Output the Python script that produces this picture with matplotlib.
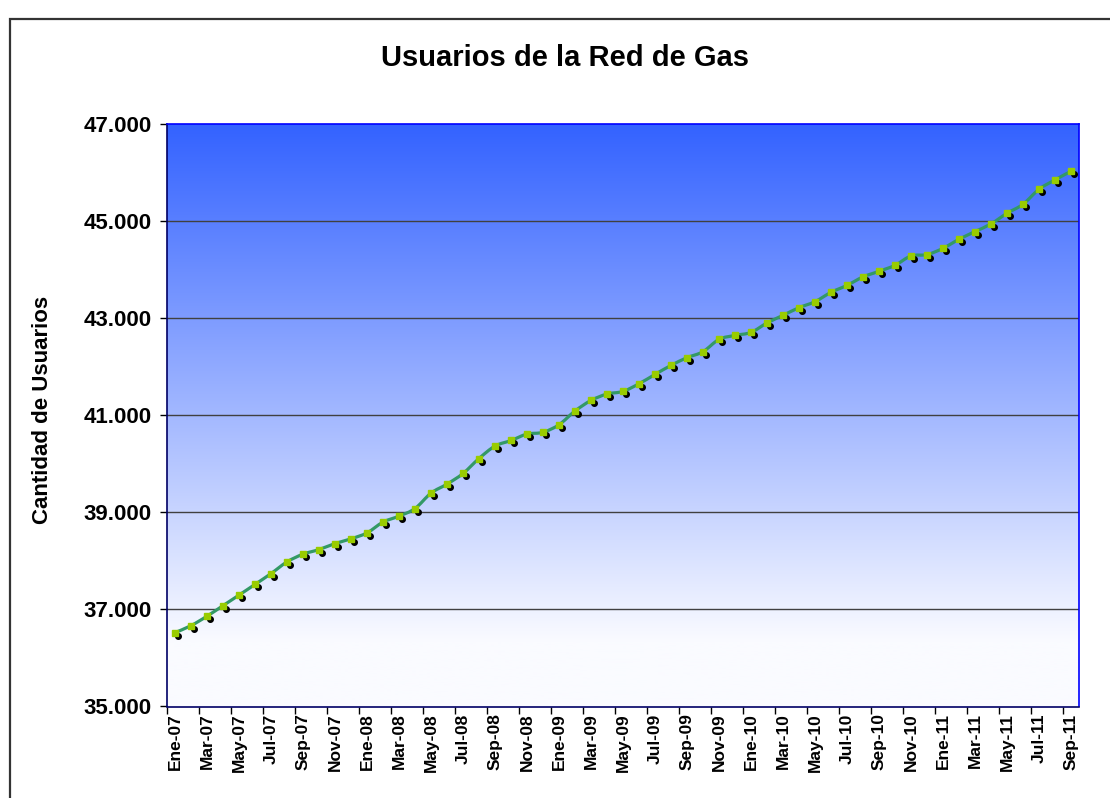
import numpy as np
import matplotlib
matplotlib.use("Agg")
import matplotlib.pyplot as plt
from matplotlib.path import Path
from matplotlib.patches import PathPatch, Rectangle
from matplotlib import transforms

plt.rcParams['font.family'] = ['Liberation Sans', 'DejaVu Sans']

# ---- data ----
month_abbr = ["Ene", "Feb", "Mar", "Abr", "May", "Jun", "Jul", "Ago", "Sep", "Oct", "Nov", "Dic"]
years = ["07", "08", "09", "10", "11"]
categories = [f"{m}-{y}" for y in years for m in month_abbr][:57]  # Ene-07 .. Sep-11

usuarios = [36522, 36666, 36860, 37078, 37295, 37515, 37738, 37979, 38138, 38233,
            38357, 38454, 38577, 38798, 38922, 39078, 39396, 39581, 39800, 40109,
            40365, 40480, 40612, 40648, 40805, 41087, 41305, 41437, 41491, 41649,
            41841, 42027, 42186, 42309, 42563, 42645, 42707, 42901, 43058, 43216,
            43340, 43532, 43676, 43850, 43965, 44089, 44282, 44309, 44439, 44625,
            44784, 44942, 45161, 45346, 45656, 45849, 46027]

y_ticks = [35000, 37000, 39000, 41000, 43000, 45000, 47000]

title = "Usuarios de la Red de Gas"
ylabel = "Cantidad de Usuarios"

# ---- figure ----
W, H = 1110, 798
fig = plt.figure(figsize=(W / 100, H / 100), dpi=100)
fig.patch.set_facecolor("white")

# outer frame (chart area border, cropped at right/bottom)
fig.patches.append(Rectangle((10 / W, -0.01), 1.2, 1 - 19 / H + 0.01,
                             transform=fig.transFigure, fill=False,
                             edgecolor="#333333", linewidth=1.6, zorder=0))

left, right = 167 / W, 1079 / W
bottom, top = 1 - 706.5 / H, 1 - 124 / H
ax = fig.add_axes([left, bottom, right - left, top - bottom])

n = len(usuarios)
x = np.arange(n)
ax.set_xlim(-0.5, n - 0.5)
ax.set_ylim(y_ticks[0], y_ticks[-1])

# gradient background (blue at top fading to near-white toward the bottom)
g = np.linspace(0, 1, 512)
t = np.clip((g - 0.11) / 0.89, 0, 1)[:, None, None]
c_top = np.array([0x33, 0x62, 0xFF]) / 255
c_bot = np.array([0xFA, 0xFB, 0xFF]) / 255
img = c_bot[None, None, :] * (1 - t) + c_top[None, None, :] * t
ax.imshow(img, extent=[0, 1, 0, 1], transform=ax.transAxes, origin="lower",
          aspect="auto", zorder=0)

# gridlines
for yv in y_ticks[1:-1]:
    ax.axhline(yv, color="#404040", linewidth=1.0, zorder=1)

# smooth line (Catmull-Rom -> Bezier)
pts = np.column_stack([x, usuarios]).astype(float)
verts = [pts[0]]
codes = [Path.MOVETO]
for i in range(n - 1):
    p0 = pts[i - 1] if i > 0 else pts[i]
    p1 = pts[i]
    p2 = pts[i + 1]
    p3 = pts[i + 2] if i + 2 < n else pts[i + 1]
    c1 = p1 + (p2 - p0) / 6.0
    c2 = p2 - (p3 - p1) / 6.0
    verts += [c1, c2, p2]
    codes += [Path.CURVE4] * 3
ax.add_patch(PathPatch(Path(verts, codes), facecolor="none", edgecolor="#339966",
                       linewidth=2.3, zorder=3, capstyle="round", joinstyle="round"))

# marker shadows and markers
shadow_tr = transforms.offset_copy(ax.transData, fig=fig, x=3, y=-3, units="dots")
ax.plot(x, usuarios, linestyle="none", marker="o", markersize=4,
        color="black", transform=shadow_tr, zorder=4)
ax.plot(x, usuarios, linestyle="none", marker="s", markersize=4.2,
        markerfacecolor="#99CC00", markeredgecolor="#99CC00", zorder=5)

# spines
for s in ["left", "bottom"]:
    ax.spines[s].set_color("#000066")
    ax.spines[s].set_linewidth(1.2)
for s in ["right", "top"]:
    ax.spines[s].set_color("#0000FF")
    ax.spines[s].set_linewidth(1.2)
for s in ax.spines.values():
    s.set_zorder(6)

# y axis
ax.set_yticks(y_ticks)
ax.set_yticklabels([f"{v:,.0f}".replace(",", ".") for v in y_ticks],
                   fontsize=16, fontweight="bold")
ax.tick_params(axis="y", direction="out", length=5, width=1, pad=6, color="black")

# x axis: labels at every 2nd category, tick marks at category boundaries
ax.set_xticks(x[::2])
ax.set_xticklabels(categories[::2], rotation=90, fontsize=12.5, fontweight="bold")
ax.tick_params(axis="x", which="major", length=0, pad=5)
ax.set_xticks(np.arange(-0.5, n, 2), minor=True)
ax.tick_params(axis="x", which="minor", direction="out", length=5, width=1, color="black")

fig.text(43 / W, 1 - 410 / H, ylabel, rotation=90, ha="center", va="center",
         fontsize=16, fontweight="bold")
fig.text(565 / W, 1 - 58 / H, title, ha="center", va="center",
         fontsize=21, fontweight="bold")

fig.savefig("out.png", dpi=100)
